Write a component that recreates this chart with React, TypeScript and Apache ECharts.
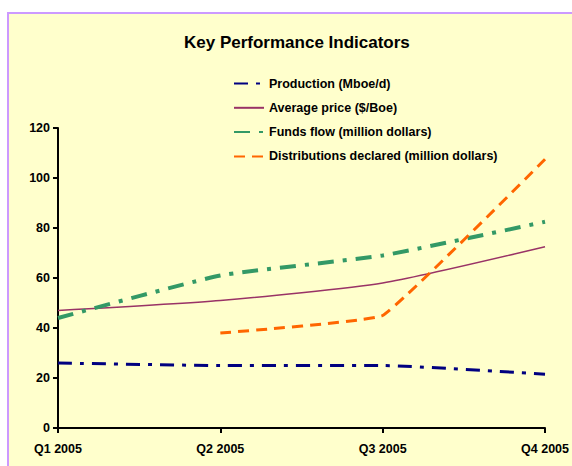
import React, { useEffect, useRef } from "react";
import * as echarts from "echarts";

const categories = ["Q1 2005", "Q2 2005", "Q3 2005", "Q4 2005"];
const production = [26, 25, 25, 21.5];
const averagePrice = [47, 51, 58, 72.5];
const fundsFlow = [44, 61, 69, 82.5];
const distributions: (number | null)[] = [null, 38, 45, 107.5];
const seriesNames = [
  "Production (Mboe/d)",
  "Average price ($/Boe)",
  "Funds flow (million dollars)",
  "Distributions declared (million dollars)",
];

const FONT = "'Liberation Sans', Arial, sans-serif";

export default function App() {
  const ref = useRef<HTMLDivElement>(null);
  useEffect(() => {
    document.body.style.margin = "0";
    const chart = echarts.init(ref.current!, null, { renderer: "svg" });
    chart.setOption({
      animation: false,
      backgroundColor: "#ffffff",
      graphic: [
        {
          type: "rect",
          z: -10,
          silent: true,
          shape: { x: 8, y: 13, width: 600, height: 500 },
          style: { fill: "#FFFFCC", stroke: "#CC99FF", lineWidth: 2 },
        },
      ],
      title: {
        text: "Key Performance Indicators",
        left: 179,
        top: 29,
        textStyle: { fontFamily: FONT, fontWeight: "bold", fontSize: 17, color: "#000" },
      },
      legend: {
        orient: "vertical",
        left: 228,
        top: 72,
        itemWidth: 30,
        itemHeight: 12,
        itemGap: 11.3,
        data: seriesNames,
        itemStyle: { opacity: 0 },
        textStyle: { fontFamily: FONT, fontWeight: "bold", fontSize: 12.5, color: "#000", padding: [0, 0, 0, 0] },
      },
      grid: { left: 58, right: 22, top: 128, bottom: 38, containLabel: false },
      xAxis: {
        type: "category",
        data: categories,
        boundaryGap: false,
        axisLine: { lineStyle: { color: "#000", width: 2 } },
        axisTick: { show: true, length: 5, lineStyle: { color: "#000", width: 2 } },
        axisLabel: {
          fontFamily: FONT,
          fontWeight: "bold",
          fontSize: 12.5,
          color: "#000",
          margin: 14,
          showMaxLabel: true,
        },
        splitLine: { show: false },
      },
      yAxis: {
        type: "value",
        min: 0,
        max: 120,
        interval: 20,
        axisLine: { show: true, lineStyle: { color: "#000", width: 2 } },
        axisTick: { show: true, length: 5, lineStyle: { color: "#000", width: 2 } },
        axisLabel: { fontFamily: FONT, fontWeight: "bold", fontSize: 12.5, color: "#000", margin: 8 },
        splitLine: { show: false },
      },
      series: [
        {
          name: seriesNames[0],
          type: "line",
          data: production,
          symbol: "none",
          smooth: 0.15,
          color: "#000080",
          lineStyle: { color: "#000080", width: 3, type: [14, 8, 4, 8] },
        },
        {
          name: seriesNames[1],
          type: "line",
          data: averagePrice,
          symbol: "none",
          smooth: 0.2,
          color: "#993366",
          lineStyle: { color: "#993366", width: 1.5, type: "solid" },
        },
        {
          name: seriesNames[2],
          type: "line",
          data: fundsFlow,
          symbol: "none",
          smooth: 0.15,
          color: "#339966",
          lineStyle: { color: "#339966", width: 4, type: [16, 9, 4, 9] },
        },
        {
          name: seriesNames[3],
          type: "line",
          data: distributions,
          symbol: "none",
          smooth: 0.08,
          color: "#FF6600",
          lineStyle: { color: "#FF6600", width: 3, type: [11, 7] },
        },
      ],
    });
    return () => chart.dispose();
  }, []);
  return <div ref={ref} style={{ width: 572, height: 466 }} />;
}
